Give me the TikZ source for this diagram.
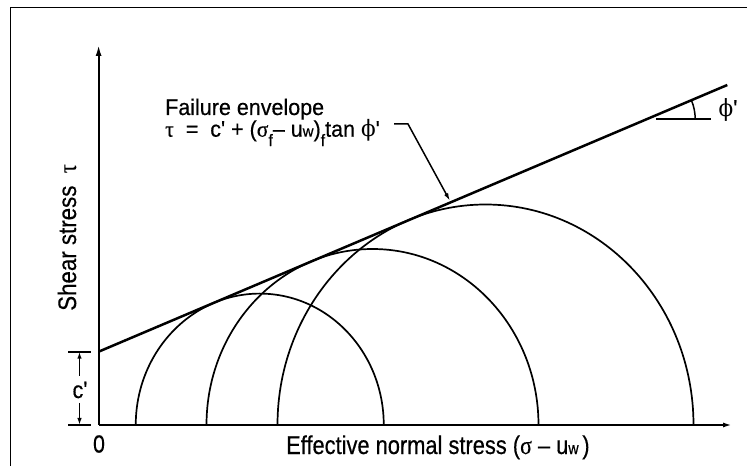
\documentclass[tikz,border=0pt]{standalone}
\usepackage{fontspec}
\setmainfont{Liberation Sans}[Ligatures=TeXOff,FakeBold=0.5]
\newfontfamily\grk{Liberation Serif}[FakeBold=0.3]
\newfontfamily\grphi{DejaVu Serif}
\usetikzlibrary{arrows.meta}
\newcommand\prm{'}
\newcommand\gtau{{\grk τ}}
\newcommand\gsig{{\grk σ}}
\newcommand\gphi{{\grphi ϕ}}
\newcommand\smw{{\fontsize{15}{15}\selectfont w}}
\newcommand\subf{\raisebox{-0.42em}{\fontsize{16}{16}\selectfont f}}
\begin{document}
\begin{tikzpicture}[x=1pt,y=1pt,
  axisline/.style={line width=1.9pt},
  envline/.style={line width=2.5pt},
  mohr/.style={line width=1.7pt},
  thinl/.style={line width=1.5pt},
  lbl/.style={inner sep=0pt, font=\fontsize{21.5}{24}\selectfont},
  ax/.style={inner sep=0pt, font=\fontsize{23}{26}\selectfont}]
\useasboundingbox (0,0) rectangle (747,466);
% frame
\coordinate (fa) at (10.7,0);
\coordinate (fb) at (10.7,458.7);
\coordinate (fc) at (747,458.7);
\draw[line width=1.3pt] (fa) -- (fb) -- (fc);
% axes
\coordinate (O) at (98.6,41);
\coordinate (ytop) at (98.6,421);
\coordinate (xend) at (732,41);
\draw[axisline,-{Latex[length=11pt,width=6pt]}] (O) -- (ytop);
\draw[axisline,-{Latex[length=9pt,width=5pt]}] (O) -- (xend);
% envelope
\coordinate (E0) at (98.6,114.3);
\coordinate (E1) at (727.3,381);
\draw[envline] (E0) -- (E1);
% Mohr circles
\coordinate (c1) at (383.75,41);
\coordinate (c2) at (538.5,41);
\coordinate (c3) at (693.5,41);
\draw[mohr] (c1) arc[start angle=0,end angle=180,x radius=124,y radius=131.4];
\draw[mohr] (c2) arc[start angle=0,end angle=180,x radius=166,y radius=176];
\draw[mohr] (c3) arc[start angle=0,end angle=180,x radius=208,y radius=220.5];
% phi' marker
\coordinate (ph0) at (656,347);
\coordinate (ph1) at (711,347);
\coordinate (pa) at (695.2,347);
\draw[envline] (ph0) -- (ph1);
\draw[thinl] (pa) arc[start angle=0,end angle=23,radius=48];
\node[lbl,anchor=center] (phil) at (728,356) {\scalebox{1}[1.1]{\gphi\prm}};
% c' dimension
\coordinate (t1a) at (68,114.3);
\coordinate (t1b) at (91,114.3);
\coordinate (t2a) at (68,41);
\coordinate (t2b) at (91,41);
\draw[axisline] (t1a) -- (t1b);
\draw[axisline] (t2a) -- (t2b);
\node[lbl,anchor=center] (cl) at (80,76) {\scalebox{1}[1.1]{c\prm}};
\coordinate (cu) at (79.5,90);
\coordinate (cd) at (79.5,63);
\coordinate (cut) at (79.5,114.3);
\coordinate (cdt) at (79.5,41);
\draw[thinl,-{Latex[length=7pt,width=4.5pt]}] (cu) -- (cut);
\draw[thinl,-{Latex[length=7pt,width=4.5pt]}] (cd) -- (cdt);
% labels
\node[lbl,anchor=base west] (fe) at (165,351) {\scalebox{1}[1.05]{Failure envelope}};
\node[lbl,anchor=base west] (eq) at (165,329.3)
  {\scalebox{1}[1.05]{\gtau\ \ =\ \ c\prm\ + (\gsig\subf– u\smw)\subf tan \gphi\prm}};
\coordinate (ld0) at (394,342);
\coordinate (ld1) at (408,342);
\coordinate (ldt) at (450,265);
\draw[thinl,-{Latex[length=8pt,width=4.5pt]}] (ld0) -- (ld1) -- (ldt);
\node[ax,anchor=base west,rotate=90] (yl) at (76,155) {\scalebox{0.97}[1.1]{Shear stress\ \ \gtau}};
\node[ax,anchor=base west] (xl) at (286,12) {\scalebox{0.95}[1.12]{Effective normal stress (\gsig\ – u\smw\,)}};
\node[lbl,anchor=center] (zero) at (99,22) {\scalebox{1}[1.15]{0}};
\end{tikzpicture}
\end{document}
